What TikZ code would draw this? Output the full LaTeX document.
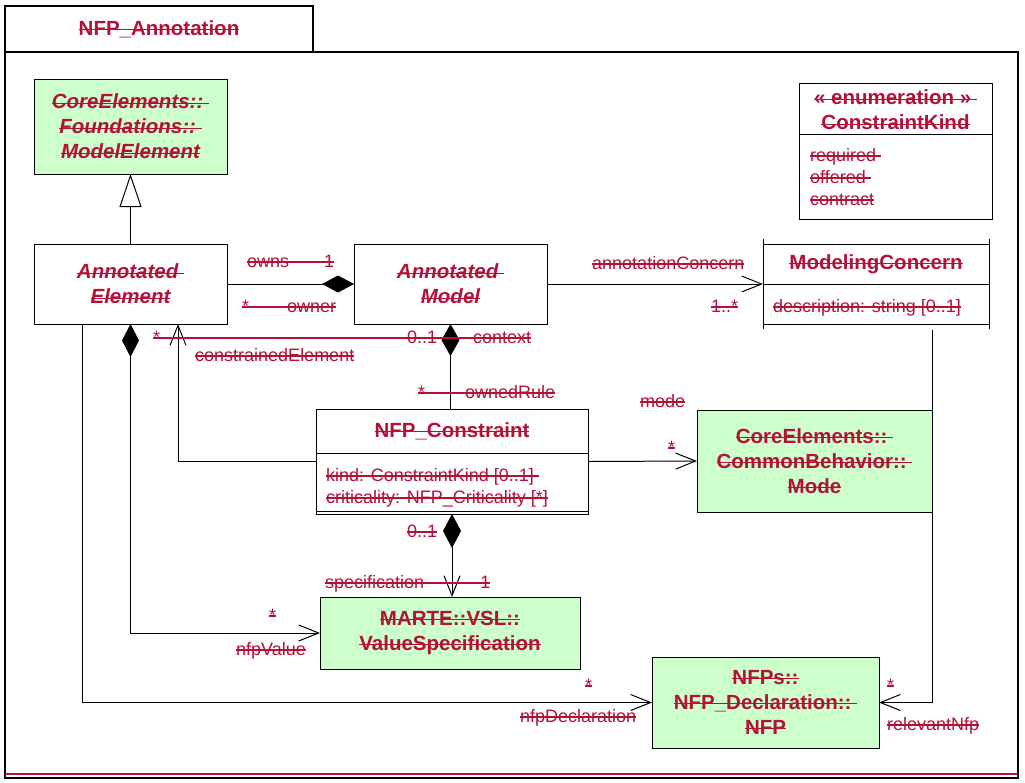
\documentclass[tikz,border=0pt]{standalone}
\usepackage{fontspec}
\setmainfont{Liberation Sans}
\usetikzlibrary{arrows.meta}
\definecolor{txt}{RGB}{180,16,56}
\definecolor{grn}{RGB}{204,255,204}
\newcommand\stk[1]{\setbox0\hbox{#1}\rlap{\raisebox{0.25em}{\rule{\wd0}{1.1pt}}}\box0}
\tikzset{
  lbl/.style={font=\fontsize{18}{21.5}\selectfont, text=txt, inner sep=0pt, anchor=base west},
  ttl/.style={font=\fontsize{20.5}{25}\selectfont\bfseries, text=txt, align=center},
  box/.style={draw, line width=1pt, inner sep=0pt, outer sep=0pt, anchor=north west},
  gbox/.style={box, fill=grn},
  ln/.style={line width=1pt},
  opn/.style={-{Straight Barb[length=20pt,width=16pt,line width=1pt]}},
  dia/.style={line width=1pt},
}
\begin{document}
\begin{tikzpicture}[x=1pt,y=-1pt]
\useasboundingbox (0,0) rectangle (1025,782);
% frame
\node[box, line width=1.3pt, minimum width=1013pt, minimum height=726pt] (frame) at (5,52) {};
\node[box, line width=1.3pt, minimum width=308pt, minimum height=46pt, ttl] (tab) at (5,6) {\stk{NFP\_Annotation}};
\draw[txt, line width=2pt] (frame.south west) ++(0,-4) coordinate (rl) -- (rl -| frame.south east);

% boxes
\node[gbox, minimum width=193pt, minimum height=95pt, ttl, font=\fontsize{20.5}{25}\selectfont\bfseries\itshape] (ME) at (34,79)
  {\stk{CoreElements::~}\\\stk{Foundations::~}\\\stk{ModelElement}};
\node[box, minimum width=193pt, minimum height=80pt, ttl, font=\fontsize{20.5}{25}\selectfont\bfseries\itshape] (AE) at (34,244)
  {\stk{Annotated~}\\\stk{Element}};
\node[box, minimum width=193pt, minimum height=80pt, ttl, font=\fontsize{20.5}{25}\selectfont\bfseries\itshape] (AM) at (354,244)
  {\stk{Annotated~}\\\stk{Model}};

% ModelingConcern
\node[box, minimum width=226pt, minimum height=80pt] (MC) at (763,244) {};
\draw[ln] (MC.west) -- (MC.east);
\draw[ln] ([yshift=5pt]MC.north west) -- ([yshift=-5pt]MC.south west);
\draw[ln] ([yshift=5pt]MC.north east) -- ([yshift=-5pt]MC.south east);
\node[ttl, inner sep=0pt] (MCt) at (876,264) {\stk{ModelingConcern}};
\node[lbl] (MCa) at (773,312) {\stk{description: string [0..1]}};

% Enumeration
\node[box, minimum width=193pt, minimum height=136pt] (EN) at (799,83) {};
\draw[ln] (799,134) coordinate (ENd) -- (ENd -| EN.east);
\node[ttl, inner sep=0pt] (ENt) at (895.5,110) {\stk{« enumeration »~}\\\stk{ConstraintKind}};
\node[lbl] (EN1) at (810,161) {\stk{required~}};
\node[lbl] (EN2) at (810,183) {\stk{offered~}};
\node[lbl] (EN3) at (810,205) {\stk{contract}};

% NFP_Constraint
\node[box, minimum width=272pt, minimum height=105pt] (NC) at (316,409) {};
\draw[ln] (316,453) coordinate (NCd) -- (NCd -| NC.east);
\draw[ln] (316,511) coordinate (NCb) -- (NCb -| NC.east);
\node[ttl, inner sep=0pt] (NCt) at (452,431) {\stk{NFP\_Constraint}};
\node[lbl] (NC1) at (326,481) {\stk{kind: ConstraintKind [0..1]~}};
\node[lbl] (NC2) at (326,503) {\stk{criticality: NFP\_Criticality [*]}};

% green boxes
\node[gbox, minimum width=235pt, minimum height=102pt, ttl] (MO) at (697,410)
  {\stk{CoreElements::~}\\\stk{CommonBehavior::~}\\\stk{Mode}};
\node[gbox, minimum width=260pt, minimum height=72pt, ttl] (VS) at (320,597)
  {\stk{MARTE::VSL::}\\\stk{ValueSpecification}};
\node[gbox, minimum width=227pt, minimum height=91pt, ttl] (NFP) at (652,657)
  {\stk{NFPs::}\\\stk{NFP\_Declaration::~}\\\stk{NFP}};

% connectors
\draw[ln, -{Triangle[open, length=33pt, width=22pt, line width=1pt, fill=white]}] (AE.north) -- (ME.south);
\draw[ln, -{Diamond[length=32pt, width=17pt, fill=black]}] (AE.east) -- (AM.west);
\draw[ln, opn] (AM.east) -- (MC.west);
\draw[ln, {Diamond[length=32pt, width=18pt, fill=black]}-] (AM.south) -- (AM.south |- NC.north);
\draw[ln, opn] (NC.west) -| ([xshift=47.5pt]AE.south);
\draw[ln, opn] (NC.east) -- (MO.west);
\draw[ln, {Diamond[length=34pt, width=18pt, fill=black]}-{Straight Barb[length=20pt,width=16pt,line width=1pt]}] (NC.south) -- (NC.south |- VS.north);
\draw[ln, {Diamond[length=33pt, width=17pt, fill=black]}-{Straight Barb[length=20pt,width=16pt,line width=1pt]}] (AE.south) |- (VS.west);
\draw[ln, opn] ([xshift=-48.5pt]AE.south) |- (NFP.west);
\draw[ln, opn] ([xshift=56pt,yshift=-6pt]MC.south) |- (NFP.east);

% labels
\node[lbl] (l1) at (247,267) {\stk{owns\hspace{35pt}1}};
\node[lbl] (l2) at (242,312) {\stk{*\hspace{38pt}owner}};
\node[lbl] (l3) at (153,343) {\stk{*\hspace{247pt}0..1\hspace{36pt}context}};
\node[lbl] (l4) at (195,361) {\stk{constrainedElement}};
\node[lbl] (l5) at (592,269) {\stk{annotationConcern}};
\node[lbl] (l6) at (711,312) {\stk{1..*}};
\node[lbl] (l7) at (418,398) {\stk{*\hspace{40pt}ownedRule}};
\node[lbl] (l8) at (640,407) {\stk{mode}};
\node[lbl] (l9) at (668,453) {\stk{*}};
\node[lbl] (l10) at (407,537) {\stk{0..1}};
\node[lbl] (l11) at (325,588) {\stk{specification\hspace{56pt}1}};
\node[lbl] (l12) at (269,621) {\stk{*}};
\node[lbl] (l13) at (236,655) {\stk{nfpValue}};
\node[lbl] (l14) at (585,691) {\stk{*}};
\node[lbl] (l15) at (520,722) {\stk{nfpDeclaration}};
\node[lbl] (l16) at (887,691) {\stk{*}};
\node[lbl] (l17) at (887,730) {\stk{relevantNfp}};
\end{tikzpicture}
\end{document}
